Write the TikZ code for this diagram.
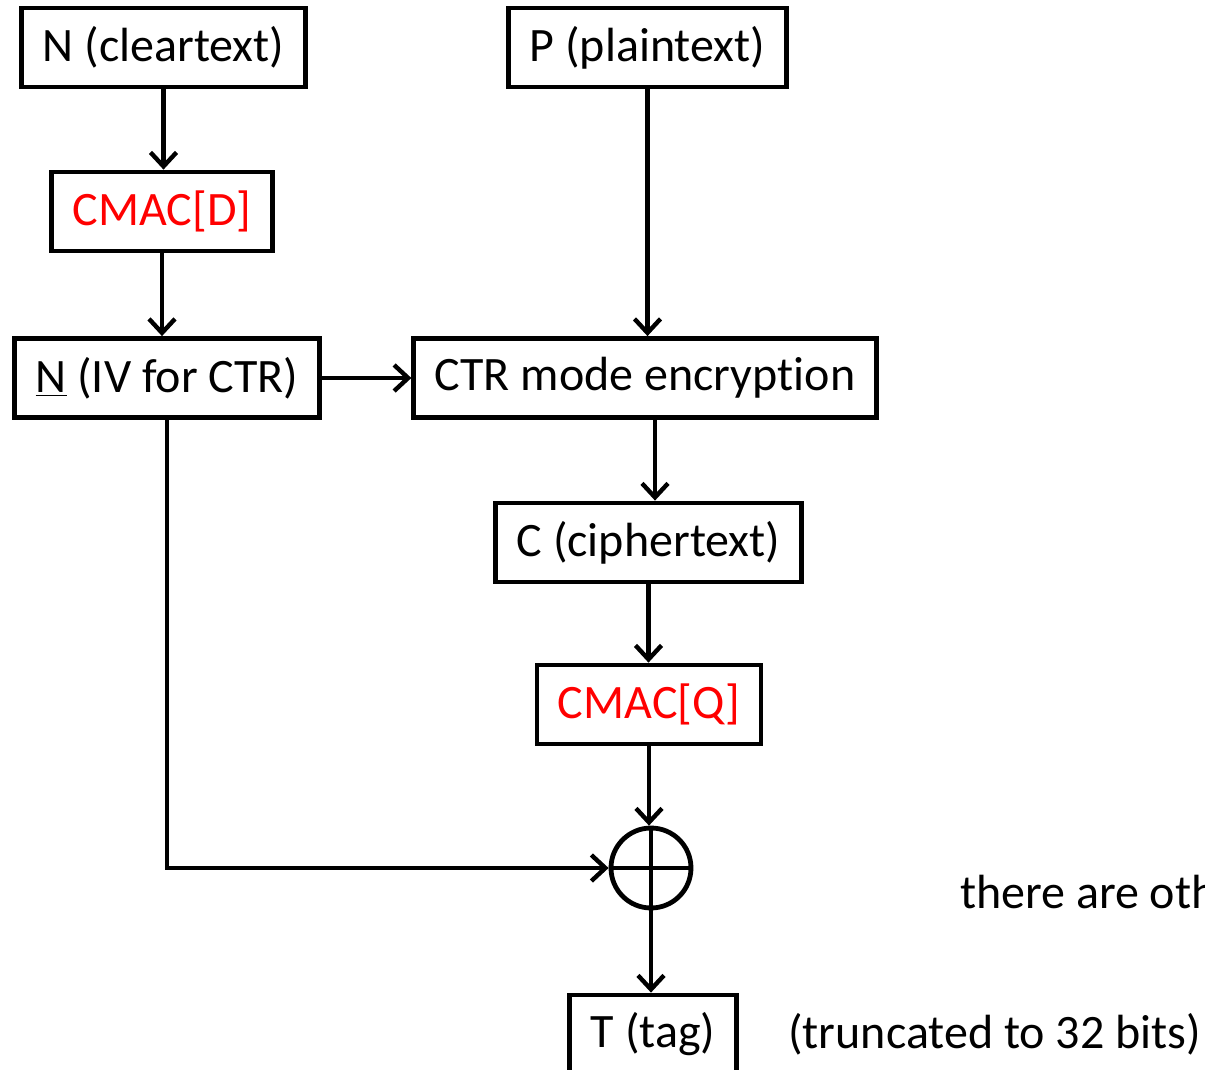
\documentclass[tikz,border=0pt]{standalone}
\usepackage{fontspec}
\setmainfont[Ligatures=NoCommon]{Carlito}
\usepackage{xcolor}
\usetikzlibrary{arrows.meta, positioning, calc}

\begin{document}
\begin{tikzpicture}[
    x=0.5pt, y=-0.5pt,
    box/.style={rectangle, draw, line width=2.4pt, minimum height=39.5pt, inner xsep=10.5pt, font=\fontsize{24}{28}\selectfont},
    mac/.style={box, text=red},
    flow/.style={line width=2.2pt, -{Straight Barb[length=7pt, width=13pt, line width=2.2pt]}}
]
\useasboundingbox (0,0) rectangle (1205,1070);

% Inputs
\node[box] (N) at (163.5,47.5) {N (cleartext)};
\node[box] (P) at (647.5,47.5) {P (plaintext)};

% Nonce path
\node[mac] (MD) at (162,211.5) {CMAC[D]};
\node[box] (IV) at (167,378) {\underline{N} (IV for CTR)};

% Encryption path
\node[box] (CTR) at (645,378) {CTR mode encryption};
\node[box] (C) at (648.5,542.5) {C (ciphertext)};
\node[mac] (MQ) at (649,704.5) {CMAC[Q]};

% Tag
\node[circle, draw, line width=2.4pt, minimum size=40pt, inner sep=0pt] (X) at (651,868) {};
\draw[line width=2.4pt] (X.north) -- (X.south) (X.west) -- (X.east);
\node[box] (T) at (653,1034.5) {T (tag)};
\node[right=of T, xshift=-0.25cm, font=\fontsize{24}{28}\selectfont] (tr) {(truncated to 32 bits)};
\node[anchor=west, font=\fontsize{24}{28}\selectfont] (oth) at (953,892) {there are other};

\draw[flow] (N.south) -- (N.south |- MD.north);
\draw[flow] (MD.south) -- (MD.south |- IV.north);
\draw[flow] (IV.east) -- (CTR.west);
\draw[flow] (P.south) -- (P.south |- CTR.north);
\draw[flow] ([xshift=5]CTR.south) -- ([xshift=5]CTR.south |- C.north);
\draw[flow] (C.south) -- (C.south |- MQ.north);
\draw[flow] (MQ.south) -- (MQ.south |- X.north);
\draw[flow] (IV.south) |- (X.west);
\draw[flow] (X.south) -- (X.south |- T.north);

\end{tikzpicture}
\end{document}
